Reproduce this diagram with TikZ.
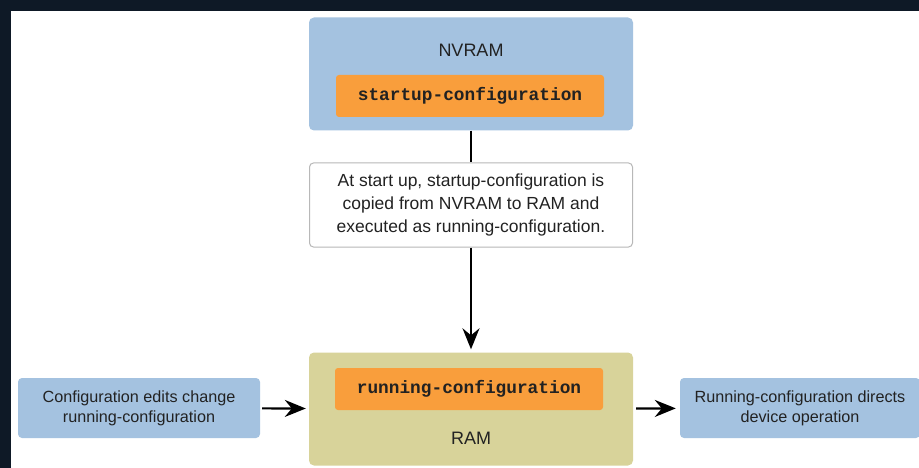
\documentclass[tikz,border=0pt]{standalone}
\usepackage{fontspec}
\setmainfont{Liberation Sans}
\setmonofont{Liberation Mono}
\usetikzlibrary{arrows.meta}
\definecolor{frameBg}{HTML}{0E1926}
\definecolor{memBlue}{HTML}{A4C2E0}
\definecolor{cfgOrange}{HTML}{F99E3C}
\definecolor{ramOlive}{HTML}{D8D39A}
\definecolor{noteGray}{HTML}{B8B8B8}
\definecolor{txtDark}{HTML}{222222}
\newcommand{\cfgFont}{\fontsize{17.8}{20}\selectfont\ttfamily\bfseries}
\newcommand{\boxFont}{\fontsize{16.2}{20}\selectfont}
\newcommand{\noteFont}{\fontsize{17.5}{23}\selectfont}

\begin{document}
\begin{tikzpicture}[x=1pt,y=-1pt,
  mem/.style={rounded corners=5pt,minimum width=324pt,minimum height=113pt},
  cfg/.style={fill=cfgOrange,rounded corners=3pt,minimum width=268pt,minimum height=42pt,font=\cfgFont,text=txtDark},
  side/.style={fill=memBlue,rounded corners=4pt,minimum height=60pt,align=center,font=\boxFont,text=txtDark},
  lbl/.style={font=\fontsize{18}{20}\selectfont,text=txtDark},
  flow/.style={line width=2.2pt,-{Stealth[length=21pt,width=17pt,inset=7pt]}}]
 % frame
 \useasboundingbox[fill=frameBg] (0,0) rectangle (919,468);
 \fill[white] (11,11) rectangle (919,468);
 % memories
 \node (nvram) [mem,fill=memBlue] at (471,74) {};
 \node (nvramlbl) [lbl] at (471,50) {NVRAM};
 \node (startup) [cfg] at (470,96) {startup-configuration};
 \node (ram) [mem,fill=ramOlive] at (471,409) {};
 \node (running) [cfg] at (469,389) {running-configuration};
 \node (ramlbl) [lbl] at (471,438) {RAM};
 % explanation
 \node (note) [draw=noteGray,line width=1pt,fill=white,rounded corners=4pt,minimum width=323pt,minimum height=84pt,align=center,font=\noteFont,text=txtDark] at (471,205)
   {At start up, startup-configuration is\\copied from NVRAM to RAM and\\executed as running-configuration.};
 \node (edits) [side,minimum width=242pt] at (139,408) {Configuration edits change\\running-configuration};
 \node (directs) [side,minimum width=240pt] at (800,408) {Running-configuration directs\\device operation};
 % connectors
 \draw[line width=2pt] (nvram) -- (note);
 \draw[flow,shorten >=3pt] (note) -- (ram);
 \draw[flow,shorten <=2pt,shorten >=3pt] (edits) -- (ram);
 \draw[flow,shorten <=3pt,shorten >=4pt] (ram) -- (directs);
\end{tikzpicture}
\end{document}
